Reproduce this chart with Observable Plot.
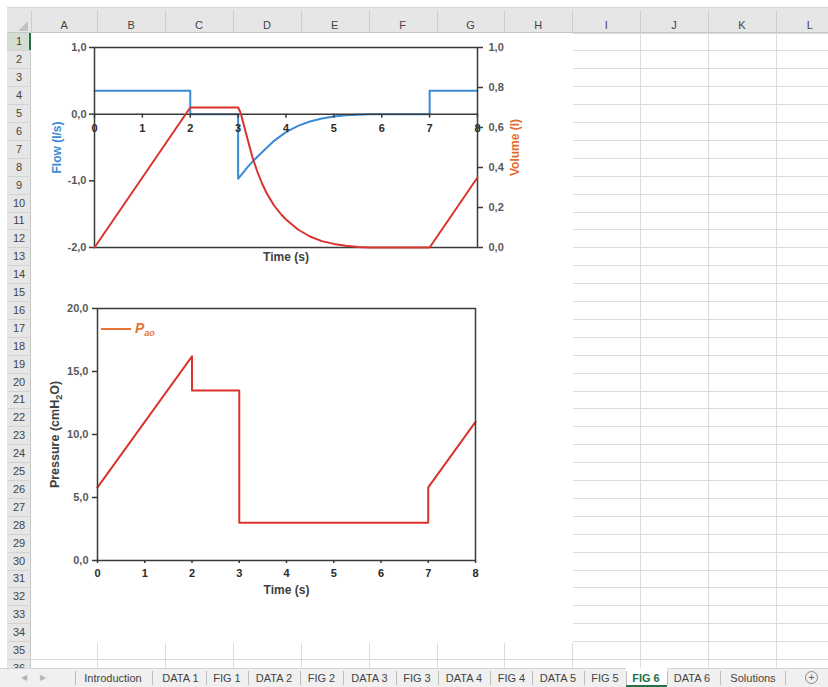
<!DOCTYPE html>
<html><head><meta charset="utf-8">
<script src="https://cdn.jsdelivr.net/npm/d3@7"></script>
<script src="https://cdn.jsdelivr.net/npm/@observablehq/plot@0.6"></script>
<style>
html,body{margin:0;padding:0;background:#fff;}
#sheet{position:relative;width:828px;height:687px;overflow:hidden;font-family:"Liberation Sans",Arial,sans-serif;background:#fff;}
#sheet div{box-sizing:border-box;white-space:nowrap;}
</style></head><body><div id="sheet"></div>
<script>
// ---------- chart data ----------
const timeTicks = [0, 1, 2, 3, 4, 5, 6, 7, 8];
const flowTicks = [-2, -1, 0, 1];
const volumeTicks = [0, 0.2, 0.4, 0.6, 0.8, 1];
const pressureTicks = [0, 5, 10, 15, 20];

const flowTime  = [0, 2, 2, 3, 3, 3.1, 3.2, 3.33, 3.5, 3.75, 4, 4.25, 4.5, 4.75, 5, 5.25, 5.5, 5.75, 7, 7, 8];
const flowValue = [0.35, 0.35, 0, 0, -0.97, -0.88, -0.79, -0.69, -0.57, -0.40, -0.27, -0.175, -0.11, -0.065, -0.035, -0.017, -0.007, 0, 0, 0.35, 0.35];

const volumeTime  = [0, 2, 3, 3.05, 3.1, 3.2, 3.3, 3.4, 3.5, 3.6, 3.75, 3.9, 4, 4.25, 4.5, 4.75, 5, 5.25, 5.5, 5.75, 7, 8];
const volumeValue = [0, 0.70, 0.70, 0.675, 0.63, 0.54, 0.45, 0.38, 0.32, 0.27, 0.21, 0.165, 0.14, 0.09, 0.055, 0.032, 0.018, 0.009, 0.003, 0, 0, 0.35];

const pressureTime  = [0, 2, 2, 3, 3, 7, 7, 8];
const pressureValue = [5.8, 16.2, 13.5, 13.5, 3.0, 3.0, 5.8, 11.0];

// ---------- sheet text ----------
const columnLetters = ["A","B","C","D","E","F","G","H","I","J","K","L"];
const rowCount = 36;
const sheetTabs = ["Introduction","DATA 1","FIG 1","DATA 2","FIG 2","DATA 3","FIG 3","DATA 4","FIG 4","DATA 5","FIG 5","FIG 6","DATA 6","Solutions"];
const activeTab = "FIG 6";

// ---------- styling ----------
const BLUE = "#3a8ad6", RED = "#d9342b", ORANGE = "#e36c2f", LEGEND = "#e8743a";
const AXIS = "#3a3a3a", TICK = "#595959";
const FONT = "'Liberation Sans', Arial, sans-serif";

const sheet = document.getElementById("sheet");
function box(styles, text) {
  const d = document.createElement("div");
  d.style.position = "absolute";
  Object.assign(d.style, styles);
  if (text != null) d.textContent = text;
  sheet.appendChild(d);
  return d;
}
const px = v => v + "px";

// ---------- spreadsheet chrome ----------
const colEdges = [31].concat(d3.range(12).map(i => 97.3 + i * 67.85));
const rowTop = 32.5, rowH = 17.9;

for (let k = 0; k <= rowCount; k++) {
  box({left: "31px", top: px(rowTop + k * rowH), width: "797px", height: "1px", background: "#dcdcdc"});
}
for (let i = 1; i < colEdges.length; i++) {
  box({left: px(colEdges[i]), top: px(rowTop), width: "1px", height: "636px", background: "#dcdcdc"});
}
// chart objects area (white)
box({left: "31px", top: "33px", width: "542px", height: "610px", background: "#fff"});

// column header
box({left: "7px", top: "7px", width: "821px", height: "26px", background: "#e6e6e6", borderBottom: "1px solid #c6c6c6", borderTop: "1px solid #d8d8d8"});
for (let i = 0; i < colEdges.length; i++) {
  box({left: px(colEdges[i]), top: "10px", width: "1px", height: "22px", background: "#cdcdcd"});
}
columnLetters.forEach((c, i) => {
  const cx = (colEdges[i] + colEdges[i + 1]) / 2;
  box({left: px(cx - 20), top: "19px", width: "40px", textAlign: "center", fontSize: "11px", lineHeight: "13px", color: "#444"}, c);
});
// corner triangle
box({left: "18px", top: "21px", width: "0", height: "0", borderLeft: "10px solid transparent", borderBottom: "10px solid #c2c2c2"});

// row header
box({left: "7px", top: "33px", width: "24px", height: "636px", background: "#e6e6e6", borderRight: "1px solid #c6c6c6"});
box({left: "7px", top: px(rowTop + 0.5), width: "24px", height: px(rowH), background: "#d4dcd4", borderRight: "2px solid #217346"});
for (let r = 1; r <= rowCount; r++) {
  const cy = rowTop + rowH * (r - 0.5);
  box({left: "7px", top: px(rowTop + r * rowH), width: "24px", height: "1px", background: "#d3d3d3"});
  box({left: "7px", top: px(cy - 7), width: "24px", textAlign: "center", fontSize: "11px", lineHeight: "14px", color: "#444"}, String(r));
}

// sheet tab bar
box({left: "0px", top: "668px", width: "828px", height: "19px", background: "#f0f0f0", borderTop: "1px solid #d4d4d4"});
box({left: "21px", top: "672px", fontSize: "8px", color: "#b5b5b5", lineHeight: "12px"}, "◀");
box({left: "40px", top: "672px", fontSize: "8px", color: "#b5b5b5", lineHeight: "12px"}, "▶");
const ctx = document.createElement("canvas").getContext("2d");
ctx.font = "11px 'Liberation Sans'";
const tabCenters = [113, 180.5, 227, 274, 321.5, 369.5, 417, 464, 511.5, 558, 605, 646, 692, 753];
const tabHalf = sheetTabs.map(t => ctx.measureText(t).width / 2);
const seps = [75];
for (let i = 0; i < sheetTabs.length - 1; i++) {
  seps.push(((tabCenters[i] + tabHalf[i]) + (tabCenters[i + 1] - tabHalf[i + 1])) / 2);
}
seps.push(785);
sheetTabs.forEach((t, i) => {
  if (t === activeTab) {
    box({left: px(seps[i]), top: "668px", width: px(seps[i + 1] - seps[i]), height: "19px", background: "#fff", borderBottom: "2px solid #217346"});
  }
});
seps.forEach(s => box({left: px(s), top: "671px", width: "1px", height: "14px", background: "#bdbdbd"}));
sheetTabs.forEach((t, i) => {
  const active = t === activeTab;
  box({left: px(tabCenters[i] - 40), top: "671px", width: "80px", textAlign: "center", fontSize: "11px", lineHeight: "14px",
       color: active ? "#217346" : "#444", fontWeight: active ? "bold" : "normal"}, t);
});
box({left: "805px", top: "671px", width: "13px", height: "13px", borderRadius: "50%", border: "1px solid #888", textAlign: "center", fontSize: "11px", lineHeight: "11px", color: "#666"}, "+");

// ---------- charts ----------
const fmt1 = d => d3.format(".1f")(d).replace(".", ",").replace("−", "-");
const flowData = flowTime.map((t, i) => ({t, v: flowValue[i]}));
const volumeData = volumeTime.map((t, i) => ({t, v: volumeValue[i]}));
const pressureData = pressureTime.map((t, i) => ({t, v: pressureValue[i]}));
const plotStyle = {fontFamily: FONT, fontSize: "11px", background: "transparent", color: AXIS, overflow: "visible"};

function place(svg, left, top) {
  svg.style.position = "absolute";
  svg.style.left = px(left);
  svg.style.top = px(top);
  svg.style.pointerEvents = "none";
  sheet.appendChild(svg);
}

const topDims = {width: 541, height: 250, marginLeft: 63, marginRight: 95, marginTop: 14, marginBottom: 36};

const flowPlot = Plot.plot({
  ...topDims,
  style: plotStyle,
  x: {domain: [0, 8], axis: null},
  y: {domain: [-2, 1]},
  marks: [
    Plot.axisY(flowTicks, {tickFormat: fmt1, tickSize: 5, tickPadding: 3, stroke: AXIS, strokeWidth: 1.5, fill: TICK, fontWeight: "bold", fontSize: 11, label: null}),
    Plot.line(flowData, {x: "t", y: "v", stroke: BLUE, strokeWidth: 2}),
    Plot.ruleY([0], {stroke: AXIS, strokeWidth: 1.5}),
    Plot.ruleX(timeTicks, {x: d => d, y1: -0.06, y2: 0, stroke: AXIS, strokeWidth: 1.5}),
    Plot.text(timeTicks, {x: d => d, y: 0, text: d => String(d), dy: 14, fill: "#2a2a2a", fontWeight: "bold", fontSize: 11}),
    Plot.text(["Time (s)"], {frameAnchor: "bottom", dy: 13, fill: "#404040", fontWeight: "bold", fontSize: 12}),
    Plot.text(["Flow (l/s)"], {frameAnchor: "left", textAnchor: "middle", rotate: -90, dx: -37, fill: BLUE, fontWeight: "bold", fontSize: 12}),
    Plot.frame({stroke: AXIS, strokeWidth: 1.5})
  ]
});
place(flowPlot, 31, 33);

const volumePlot = Plot.plot({
  ...topDims,
  style: plotStyle,
  x: {domain: [0, 8], axis: null},
  y: {domain: [0, 1]},
  marks: [
    Plot.axisY(volumeTicks, {anchor: "right", tickFormat: fmt1, tickSize: 5, tickPadding: 6, stroke: AXIS, strokeWidth: 1.5, fill: TICK, fontWeight: "bold", fontSize: 11, label: null}),
    Plot.line(volumeData, {x: "t", y: "v", stroke: RED, strokeWidth: 2}),
    Plot.text(["Volume (l)"], {frameAnchor: "right", textAnchor: "middle", rotate: -90, dx: 38, fill: ORANGE, fontWeight: "bold", fontSize: 12})
  ]
});
place(volumePlot, 31, 33);

const pressurePlot = Plot.plot({
  width: 541, height: 330, marginLeft: 66, marginRight: 97, marginTop: 18, marginBottom: 60,
  style: plotStyle,
  x: {domain: [0, 8]},
  y: {domain: [0, 20]},
  marks: [
    Plot.axisY(pressureTicks, {tickFormat: fmt1, tickSize: 5, tickPadding: 4, stroke: AXIS, strokeWidth: 1.5, fill: TICK, fontWeight: "bold", fontSize: 11, label: null}),
    Plot.axisX(timeTicks, {tickFormat: d => String(d), tickSize: 3, tickPadding: 6, stroke: AXIS, strokeWidth: 1.5, fill: "#2a2a2a", fontWeight: "bold", fontSize: 11, label: null}),
    Plot.line(pressureData, {x: "t", y: "v", stroke: RED, strokeWidth: 2}),
    Plot.text(["Time (s)"], {frameAnchor: "bottom", dy: 33, fill: "#404040", fontWeight: "bold", fontSize: 12}),
    Plot.text(["Pressure (cmH2O)"], {frameAnchor: "left", textAnchor: "middle", rotate: -90, dx: -43, fill: "#404040", fontWeight: "bold", fontSize: 12.5}),
    Plot.frame({stroke: AXIS, strokeWidth: 1.5})
  ]
});
// subscript in the axis title
for (const t of pressurePlot.querySelectorAll("text")) {
  if (t.textContent === "Pressure (cmH2O)") {
    const NS = "http://www.w3.org/2000/svg";
    t.textContent = "";
    const a = document.createElementNS(NS, "tspan"); a.textContent = "Pressure (cmH";
    const b = document.createElementNS(NS, "tspan"); b.textContent = "2"; b.setAttribute("dy", "3"); b.setAttribute("font-size", "9");
    const c = document.createElementNS(NS, "tspan"); c.textContent = "O)"; c.setAttribute("dy", "-3");
    t.append(a, b, c);
  }
}
place(pressurePlot, 31, 290);

// legend for the pressure chart
box({left: "101px", top: "328px", width: "30px", height: "2px", background: LEGEND});
const leg = box({left: "135px", top: "320px", fontStyle: "italic", fontWeight: "bold", color: LEGEND, fontSize: "14px", lineHeight: "16px"});
leg.innerHTML = 'P<span style="font-size:9px;position:relative;top:3px">ao</span>';
</script>
</body></html>
